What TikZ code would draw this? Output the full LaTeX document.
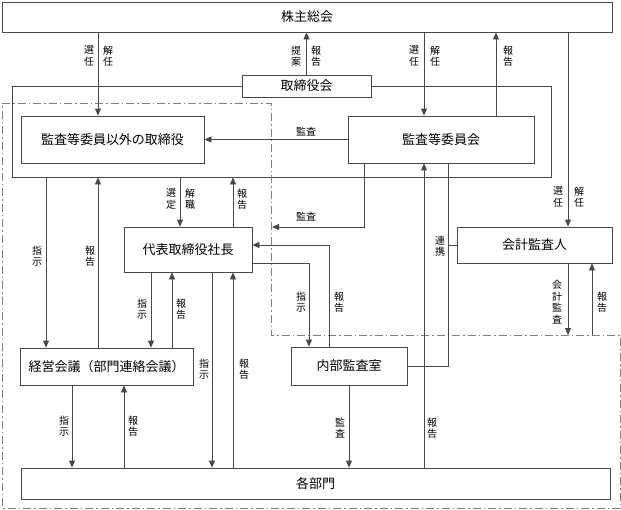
\documentclass[tikz,border=0pt]{standalone}
\usepackage{fontspec}
\setmainfont{Noto Sans CJK JP}
\usetikzlibrary{arrows.meta}
\definecolor{linegray}{HTML}{484848}

\begin{document}
\begin{tikzpicture}[x=1pt,y=-1pt,
        box/.style={draw=linegray,fill=white,line width=0.8pt,inner sep=0pt,
            font=\fontsize{13}{15}\selectfont},
        lbl/.style={align=center,inner sep=0pt,
            font=\fontsize{10}{11.5}\selectfont},
        arr/.style={draw=linegray,line width=0.8pt,-{Triangle[length=7pt,width=6pt]}},
        ln/.style={draw=linegray,line width=0.8pt},
        ddot/.style={draw=gray,line width=0.8pt,dash pattern=on 8pt off 3pt on 1.5pt off 3pt}]
    \useasboundingbox (0,0) rectangle (621,509);
    % areas
    \node[draw=linegray,line width=0.8pt,inner sep=0pt,minimum width=539pt,
        minimum height=91pt] (board) at (281.5,131.5) {};
    \draw[ddot] (2,103) -- (271,103) -- (271,335) -- (620,335) -- (620,508)
        -- (2,508) -- cycle;
    \coordinate (ddA) at (272,227);
    \coordinate (ddB) at (568,335);
    \coordinate (ddC) at (592,335);
    % boxes
    \node[box,minimum width=610pt,minimum height=30pt] (kabu) at (307,17) {株主総会};
    \node[box,minimum width=129pt,minimum height=22pt] (torikai) at (306.5,86) {取締役会};
    \node[box,minimum width=183pt,minimum height=47pt] (kansayaku) at (112.5,139.5) {監査等委員以外の取締役};
    \node[box,minimum width=186pt,minimum height=47pt] (iinkai) at (441,139.5) {監査等委員会};
    \node[box,minimum width=128pt,minimum height=45pt] (shacho) at (188,249.5) {代表取締役社長};
    \node[box,minimum width=155pt,minimum height=36pt] (kaikei) at (534.5,245) {会計監査人};
    \node[box,minimum width=173pt,minimum height=37pt] (keiei) at (106.5,366.5) {経営会議（部門連絡会議）};
    \node[box,minimum width=116pt,minimum height=38pt] (naibu) at (349,366) {内部監査室};
    \node[box,minimum width=589pt,minimum height=31pt] (kakubu) at (315.5,483.5) {各部門};
    % shareholders
    \draw[arr] (kabu.south -| 98,0) -- (kansayaku.north -| 98,0);
    \draw[arr] (torikai.north) -- (kabu.south -| torikai.north);
    \draw[arr] (kabu.south -| 424,0) -- (iinkai.north -| 424,0);
    \draw[arr] (iinkai.north -| 496,0) -- (kabu.south -| 496,0);
    \draw[arr] (kabu.south -| 568,0) -- (kaikei.north -| 568,0);
    \node[lbl] (senA) at (89,56) {選\\任};
    \node[lbl] (kaiA) at (108,56) {解\\任};
    \node[lbl] (teian) at (296,56) {提\\案};
    \node[lbl] (hoA) at (316,56) {報\\告};
    \node[lbl] (senB) at (414,56) {選\\任};
    \node[lbl] (kaiB) at (435,56) {解\\任};
    \node[lbl] (hoB) at (508,56) {報\\告};
    \node[lbl] (senC) at (558,197) {選\\任};
    \node[lbl] (kaiC) at (579,197) {解\\任};
    % audit committee
    \draw[arr] (iinkai.west) -- (kansayaku.east);
    \draw[arr] (iinkai.south -| 364,0) |- (ddA);
    \node[lbl] (kansaA) at (306,132) {監査};
    \node[lbl] (kansaB) at (306,217) {監査};
    % board and president
    \draw[arr] (board.south -| 180,0) -- (shacho.north -| 180,0);
    \draw[arr] (shacho.north -| 233,0) -- (board.south -| 233,0);
    \draw[arr] (board.south -| 46,0) -- (keiei.north -| 46,0);
    \draw[arr] (keiei.north -| 98,0) -- (board.south -| 98,0);
    \node[lbl] (sentei) at (171,199) {選\\定};
    \node[lbl] (kaishoku) at (190,199) {解\\職};
    \node[lbl] (hoC) at (242,199) {報\\告};
    \node[lbl] (shijiA) at (37,256) {指\\示};
    \node[lbl] (hoD) at (90,256) {報\\告};
    \draw[arr] (shacho.south -| 151,0) -- (keiei.north -| 151,0);
    \draw[arr] (keiei.north -| 172,0) -- (shacho.south -| 172,0);
    \draw[arr] (shacho.south -| 212,0) -- (kakubu.north -| 212,0);
    \draw[arr] (kakubu.north -| 233,0) -- (shacho.south -| 233,0);
    \draw[arr] (keiei.south -| 72,0) -- (kakubu.north -| 72,0);
    \draw[arr] (kakubu.north -| 124,0) -- (keiei.south -| 124,0);
    \node[lbl] (shijiB) at (142,309) {指\\示};
    \node[lbl] (hoE) at (181,309) {報\\告};
    \node[lbl] (shijiC) at (204,369) {指\\示};
    \node[lbl] (hoF) at (244,369) {報\\告};
    \node[lbl] (shijiD) at (64,426) {指\\示};
    \node[lbl] (hoG) at (133,426) {報\\告};
    % internal audit
    \draw[arr] (shacho.east |- 0,263) -| (naibu.north -| 309,0);
    \draw[arr] (naibu.north -| 329,0) |- (shacho.east |- 0,245);
    \draw[arr] (naibu.south) -- (kakubu.north -| naibu.south);
    \draw[arr] (kakubu.north -| 424,0) -- (iinkai.south -| 424,0);
    \node[lbl] (shijiE) at (301,302) {指\\示};
    \node[lbl] (hoH) at (339,302) {報\\告};
    \node[lbl] (kansaC) at (340,428) {監\\査};
    \node[lbl] (hoI) at (432,428) {報\\告};
    % cooperation
    \draw[ln] (iinkai.south -| 448,0) |- (naibu.east);
    \draw[ln] (kaikei.west) -- (kaikei.west -| 448,0);
    \node[lbl] (renkei) at (440,246) {連\\携};
    % accounting auditor
    \draw[arr] (kaikei.south -| ddB) -- (ddB);
    \draw[arr] (ddC) -- (kaikei.south -| ddC);
    \node[lbl] (kaikeikansa) at (557,302) {会\\計\\監\\査};
    \node[lbl] (hoJ) at (602,302) {報\\告};
\end{tikzpicture}
\end{document}
